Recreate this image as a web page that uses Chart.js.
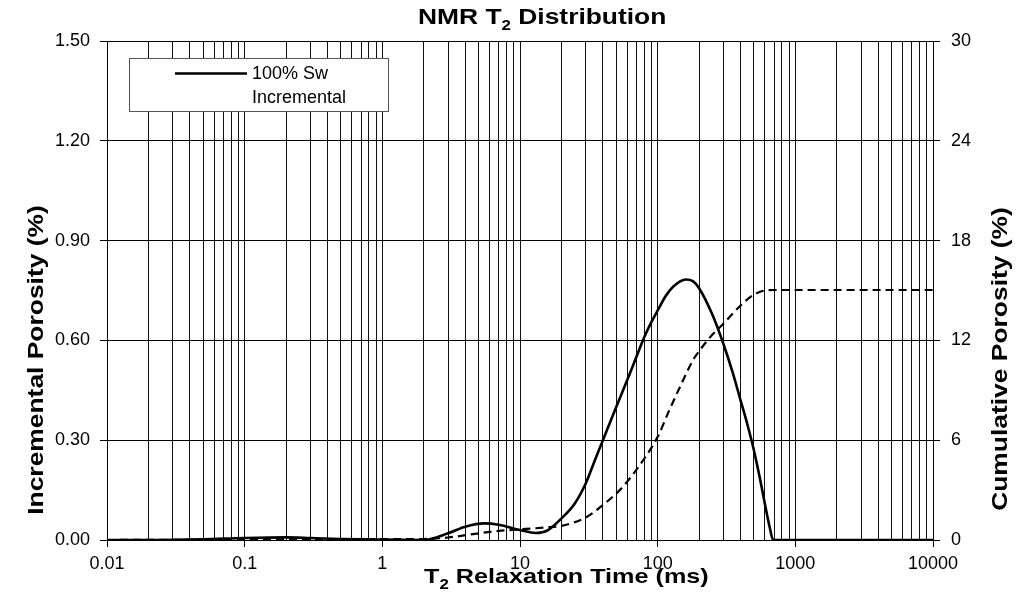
<!DOCTYPE html>
<html>
<head>
<meta charset="utf-8">
<script src="https://cdn.jsdelivr.net/npm/chart.js@4.4.1/dist/chart.umd.min.js"></script>
<style>
  html, body { margin: 0; padding: 0; background: #fff; }
  #wrap { width: 1018px; height: 596px; }
</style>
</head>
<body>
<div id="wrap"><canvas id="nmrChart" width="1018" height="596"></canvas></div>
<script>
// data
const incT2 = [0.01, 0.02, 0.05, 0.1, 0.2, 0.3, 0.5, 1, 2, 3, 4, 5.5, 7, 10, 13, 16, 20, 25, 30, 35, 40, 50, 60, 70, 80, 90, 100, 115, 130, 160, 180, 200, 250, 300, 350, 400, 450, 500, 550, 600, 650, 690, 1000, 10000];
const incPorosity = [0, 0, 0.002, 0.006, 0.008, 0.006, 0.003, 0.001, 0, 0.02, 0.04, 0.05, 0.046, 0.03, 0.021, 0.03, 0.065, 0.11, 0.17, 0.24, 0.30, 0.40, 0.48, 0.55, 0.61, 0.655, 0.69, 0.735, 0.762, 0.783, 0.778, 0.757, 0.677, 0.59, 0.505, 0.42, 0.345, 0.27, 0.19, 0.11, 0.04, 0, 0, 0];

const cumT2 = [0.01, 0.1, 0.3, 1, 2, 3, 5, 7, 10, 15, 20, 30, 40, 53, 60, 80, 100, 120, 150, 180, 200, 250, 300, 350, 400, 500, 600, 700, 1000, 10000];
const cumPorosity = [0, 0.02, 0.05, 0.06, 0.06, 0.15, 0.4, 0.55, 0.64, 0.75, 0.85, 1.35, 2.1, 3.0, 3.5, 4.9, 6.2, 7.7, 9.45, 10.8, 11.35, 12.35, 13.0, 13.6, 14.1, 14.75, 15.0, 15.03, 15.03, 15.03];

const xDecades = [0.01, 0.1, 1, 10, 100, 1000, 10000];
const xTickLabels = ['0.01', '0.1', '1', '10', '100', '1000', '10000'];
const leftTicks = [0, 0.3, 0.6, 0.9, 1.2, 1.5];
const leftTickLabels = ['0.00', '0.30', '0.60', '0.90', '1.20', '1.50'];
const rightTicks = [0, 6, 12, 18, 24, 30];
const rightTickLabels = ['0', '6', '12', '18', '24', '30'];

const legendLines = ['100% Sw', 'Incremental'];
const titleParts = [['NMR T', false], ['2', true], [' Distribution', false]];
const xTitleParts = [['T', false], ['2', true], [' Relaxation Time (ms)', false]];
const leftTitle = 'Incremental Porosity (%)';
const rightTitle = 'Cumulative Porosity (%)';

const FONT = '"Liberation Sans", Arial, sans-serif';
const STRETCH = 1.2; // bold titles in the picture are drawn wide

// log ticks 1..9 per decade
function buildLogTicks() {
    const out = [];
    for (let i = 0; i < xDecades.length - 1; i++) {
        for (let k = 1; k <= 9; k++) {
            out.push({ value: k * xDecades[i] });
        }
    }
    out.push({ value: xDecades[xDecades.length - 1] });
    return out;
}

function decadeIndex(v) {
    return xDecades.findIndex(d => Math.abs(v - d) / d < 1e-9);
}

// bold text with a subscript, starting at left x
function drawSubText(ctx, parts, left, cy, size) {
    const subSize = Math.round(size * 0.65);
    ctx.save();
    ctx.translate(left, cy);
    ctx.scale(STRETCH, 1);
    ctx.textAlign = 'left';
    ctx.textBaseline = 'middle';
    let x = 0;
    parts.forEach(p => {
        ctx.font = 'bold ' + (p[1] ? subSize : size) + 'px ' + FONT;
        ctx.fillText(p[0], x, p[1] ? size * 0.38 : 0);
        x += ctx.measureText(p[0]).width;
    });
    ctx.restore();
}

function drawVertical(ctx, text, cx, cy, size) {
    ctx.save();
    ctx.translate(cx, cy);
    ctx.rotate(-Math.PI / 2);
    ctx.scale(STRETCH, 1);
    ctx.font = 'bold ' + size + 'px ' + FONT;
    ctx.textAlign = 'center';
    ctx.textBaseline = 'middle';
    ctx.fillText(text, 0, 0);
    ctx.restore();
}

const decorPlugin = {
    id: 'decor',
    afterDraw(chart) {
        const ctx = chart.ctx;
        ctx.save();
        ctx.fillStyle = '#000';

        drawSubText(ctx, titleParts, 418, 18, 22);
        drawSubText(ctx, xTitleParts, 424, 577, 21);
        drawVertical(ctx, leftTitle, 37, 360, 22);
        drawVertical(ctx, rightTitle, 1001, 359, 22);

        // legend box
        ctx.fillStyle = '#fff';
        ctx.fillRect(129.5, 58.5, 259, 53);
        ctx.strokeStyle = '#555';
        ctx.lineWidth = 1;
        ctx.strokeRect(129.5, 58.5, 259, 53);
        ctx.strokeStyle = '#000';
        ctx.lineWidth = 2.5;
        ctx.beginPath();
        ctx.moveTo(175, 73.5);
        ctx.lineTo(247, 73.5);
        ctx.stroke();
        ctx.fillStyle = '#000';
        ctx.font = '18px ' + FONT;
        ctx.textAlign = 'left';
        ctx.textBaseline = 'middle';
        ctx.fillText(legendLines[0], 252, 74);
        ctx.fillText(legendLines[1], 252, 98);

        ctx.restore();
    }
};

new Chart(document.getElementById('nmrChart'), {
    type: 'line',
    data: {
        datasets: [
            {
                label: legendLines.join(' '),
                data: incT2.map((t, i) => ({ x: t, y: incPorosity[i] })),
                yAxisID: 'y',
                borderColor: '#000',
                borderWidth: 2.6,
                pointRadius: 0,
                fill: false,
                cubicInterpolationMode: 'monotone'
            },
            {
                label: 'Cumulative',
                data: cumT2.map((t, i) => ({ x: t, y: cumPorosity[i] })),
                yAxisID: 'y1',
                borderColor: '#000',
                borderWidth: 2.2,
                borderDash: [8, 5],
                pointRadius: 0,
                fill: false,
                cubicInterpolationMode: 'monotone'
            }
        ]
    },
    options: {
        responsive: false,
        animation: false,
        layout: { padding: { top: 41, left: 0, right: 0, bottom: 0 } },
        plugins: {
            legend: { display: false },
            title: { display: false },
            tooltip: { enabled: false }
        },
        scales: {
            x: {
                type: 'logarithmic',
                min: 0.01,
                max: 10000,
                afterBuildTicks: scale => { scale.ticks = buildLogTicks(); },
                afterFit: scale => { scale.height = 56; },
                border: { color: '#000', width: 1 },
                grid: {
                    color: '#111',
                    lineWidth: 1,
                    tickLength: 7,
                    tickColor: ctx => (ctx.tick && decadeIndex(ctx.tick.value) >= 0) ? '#000' : 'rgba(0,0,0,0)'
                },
                ticks: {
                    autoSkip: false,
                    maxRotation: 0,
                    padding: 6,
                    color: '#000',
                    font: { family: FONT, size: 18 },
                    callback: function(value) {
                        const i = decadeIndex(value);
                        return i >= 0 ? xTickLabels[i] : '';
                    }
                }
            },
            y: {
                position: 'left',
                min: 0,
                max: 1.5,
                afterBuildTicks: scale => { scale.ticks = leftTicks.map(v => ({ value: v })); },
                afterFit: scale => { scale.width = 107; },
                border: { color: '#000', width: 1 },
                grid: { color: '#000', lineWidth: 1, tickLength: 7, tickColor: '#000' },
                ticks: {
                    padding: 10,
                    color: '#000',
                    font: { family: FONT, size: 18 },
                    callback: function(value) {
                        const i = leftTicks.findIndex(v => Math.abs(v - value) < 1e-9);
                        return i >= 0 ? leftTickLabels[i] : '';
                    }
                }
            },
            y1: {
                position: 'right',
                min: 0,
                max: 30,
                afterBuildTicks: scale => { scale.ticks = rightTicks.map(v => ({ value: v })); },
                afterFit: scale => { scale.width = 85; },
                border: { color: '#000', width: 1 },
                grid: { drawOnChartArea: false, tickLength: 7, tickColor: '#000' },
                ticks: {
                    padding: 11,
                    color: '#000',
                    font: { family: FONT, size: 18 },
                    callback: function(value) {
                        const i = rightTicks.indexOf(value);
                        return i >= 0 ? rightTickLabels[i] : '';
                    }
                }
            }
        }
    },
    plugins: [decorPlugin]
});
</script>
</body>
</html>
